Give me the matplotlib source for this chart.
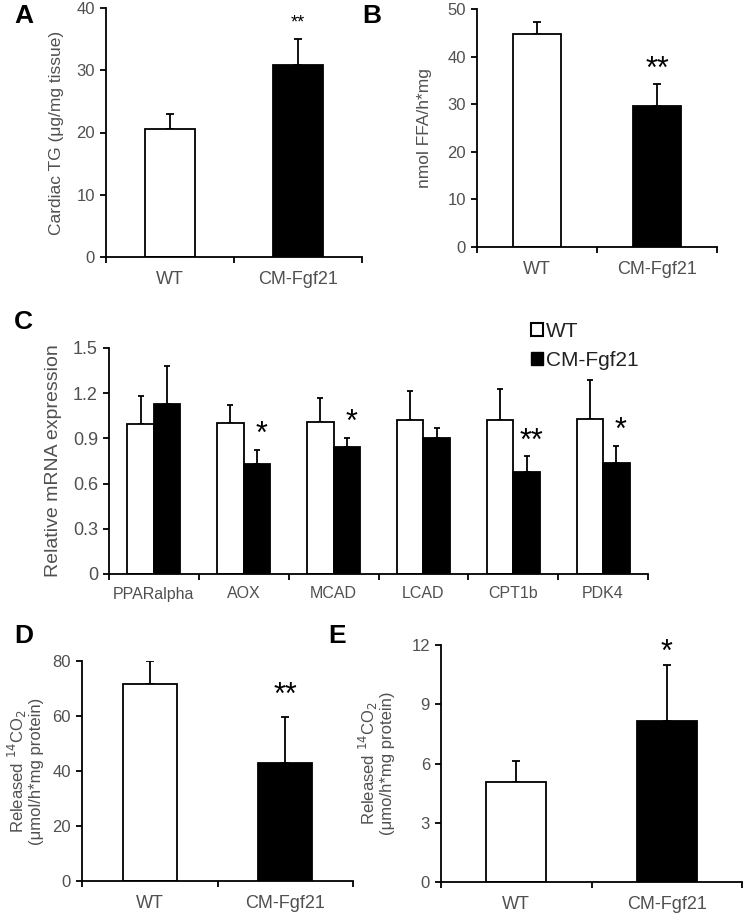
import matplotlib
matplotlib.use("Agg")
import matplotlib.pyplot as plt
from matplotlib.patches import Patch
import numpy as np

plt.rcParams['font.family'] = ['Liberation Sans', 'DejaVu Sans']

groups = ["WT", "CM-Fgf21"]

# panel A
tg_mean = [20.5, 30.9]
tg_err = [2.4, 4.2]
# panel B
ffa_mean = [44.8, 29.6]
ffa_err = [2.4, 4.7]
# panel C
genes = ["PPARalpha", "AOX", "MCAD", "LCAD", "CPT1b", "PDK4"]
wt_mrna = [0.995, 1.00, 1.01, 1.02, 1.02, 1.03]
wt_mrna_err = [0.185, 0.12, 0.16, 0.195, 0.21, 0.26]
cm_mrna = [1.13, 0.73, 0.84, 0.90, 0.68, 0.74]
cm_mrna_err = [0.25, 0.09, 0.06, 0.07, 0.10, 0.11]
cm_stars = ["", "*", "*", "", "**", "*"]
# panel D
co2_d_mean = [71.7, 42.8]
co2_d_err = [8.3, 16.9]
# panel E
co2_e_mean = [5.05, 8.15]
co2_e_err = [1.08, 2.85]

W, H = 745, 915
fig = plt.figure(figsize=(W / 100, H / 100), dpi=100)
grey = '#505050'


def box(l, r, t, b):
    return [l / W, 1 - b / H, (r - l) / W, (b - t) / H]


def style(ax, ymax, yticks, n, fs=12):
    ax.spines['top'].set_visible(False)
    ax.spines['right'].set_visible(False)
    ax.spines['left'].set_linewidth(1.3)
    ax.spines['bottom'].set_linewidth(1.3)
    ax.set_ylim(0, ymax)
    ax.set_xlim(-0.5, n - 0.5)
    ax.set_yticks(yticks)
    ax.tick_params(axis='y', length=4, width=1.3, labelsize=fs, labelcolor=grey, pad=4)
    ax.set_xticks(np.arange(-0.5, n), minor=True)
    ax.tick_params(axis='x', which='minor', length=4, width=1.3)
    ax.tick_params(axis='x', which='major', length=0, pad=10, labelsize=fs + 1, labelcolor=grey)


def two_bars(ax, means, errs, width):
    x = np.arange(len(means))
    ax.bar(x, means, width, color=['white', 'black'], edgecolor='black', linewidth=1.3, zorder=2)
    ax.errorbar(x, means, yerr=[[0, 0], errs], fmt='none', ecolor='black',
                elinewidth=1.3, capsize=3, capthick=1.3, zorder=1)
    ax.set_xticks(x, groups)


# A
axA = fig.add_axes(box(106, 362, 8, 257))
two_bars(axA, tg_mean, tg_err, 0.39)
style(axA, 40, [0, 10, 20, 30, 40], 2)
axA.set_ylabel("Cardiac TG (\u03bcg/mg tissue)", fontsize=12.5, color=grey, labelpad=9)
axA.text(1, 37.6, "**", ha='center', va='center', fontsize=13)

# B
axB = fig.add_axes(box(477, 717, 9, 247))
two_bars(axB, ffa_mean, ffa_err, 0.4)
style(axB, 50, [0, 10, 20, 30, 40, 50], 2)
axB.set_ylabel("nmol FFA/h*mg", fontsize=12.5, color=grey, labelpad=11)
axB.text(1, 37.3, "**", ha='center', va='center', fontsize=22)

# C
axC = fig.add_axes(box(109, 648, 348, 574))
xc = np.arange(len(genes))
bw = 0.295
axC.bar(xc - bw / 2, wt_mrna, bw, color='white', edgecolor='black', linewidth=1.3, zorder=2)
axC.bar(xc + bw / 2, cm_mrna, bw, color='black', edgecolor='black', linewidth=1.3, zorder=2)
axC.errorbar(xc - bw / 2, wt_mrna, yerr=[np.zeros(len(genes)), wt_mrna_err], fmt='none',
             ecolor='black', elinewidth=1.3, capsize=2.5, capthick=1.3, zorder=1)
axC.errorbar(xc + bw / 2, cm_mrna, yerr=[np.zeros(len(genes)), cm_mrna_err], fmt='none',
             ecolor='black', elinewidth=1.3, capsize=2.5, capthick=1.3, zorder=1)
style(axC, 1.5, [0, 0.3, 0.6, 0.9, 1.2, 1.5], len(genes), fs=13)
axC.set_xticks(xc, genes)
axC.set_yticklabels(["0", "0.3", "0.6", "0.9", "1.2", "1.5"])
axC.tick_params(axis='x', which='major', labelsize=11.5, pad=9)
axC.set_ylabel("Relative mRNA expression", fontsize=14, color=grey, labelpad=8)
for i, s in enumerate(cm_stars):
    if s:
        axC.text(i + bw / 2 + 0.05, cm_mrna[i] + cm_mrna_err[i] + 0.1, s,
                 ha='center', va='center', fontsize=22)
fig.legend(handles=[Patch(facecolor='white', edgecolor='black', linewidth=1.5, label='WT'),
                    Patch(facecolor='black', edgecolor='black', label='CM-Fgf21')],
           loc='upper left', bbox_to_anchor=(512 / W, 1 - 303 / H), frameon=False,
           fontsize=15, handlelength=0.6, handleheight=0.6,
           handletextpad=0.15, labelspacing=0.5, labelcolor='#222222')

# D
axD = fig.add_axes(box(82, 353, 661, 881))
two_bars(axD, co2_d_mean, co2_d_err, 0.4)
style(axD, 80, [0, 20, 40, 60, 80], 2)
axD.set_ylabel("Released $^{14}$CO$_2$\n(\u03bcmol/h*mg protein)", fontsize=12,
               color=grey, labelpad=6, linespacing=1.0)
axD.text(1, 67.3, "**", ha='center', va='center', fontsize=22)

# E
axE = fig.add_axes(box(441, 742, 645, 882))
two_bars(axE, co2_e_mean, co2_e_err, 0.4)
style(axE, 12, [0, 3, 6, 9, 12], 2)
axE.set_ylabel("Released $^{14}$CO$_2$\n(\u03bcmo/h*mg protein)", fontsize=12,
               color=grey, labelpad=12, linespacing=1.0)
axE.text(1, 11.6, "*", ha='center', va='center', fontsize=22)

# panel letters
for letter, (px, py) in zip("ABCDE", [(14, 16), (362, 16), (14, 322), (14, 636), (328, 636)]):
    fig.text(px / W, 1 - py / H, letter, fontsize=19, fontweight='bold', va='center', ha='left')

fig.savefig("out.png", dpi=100)
